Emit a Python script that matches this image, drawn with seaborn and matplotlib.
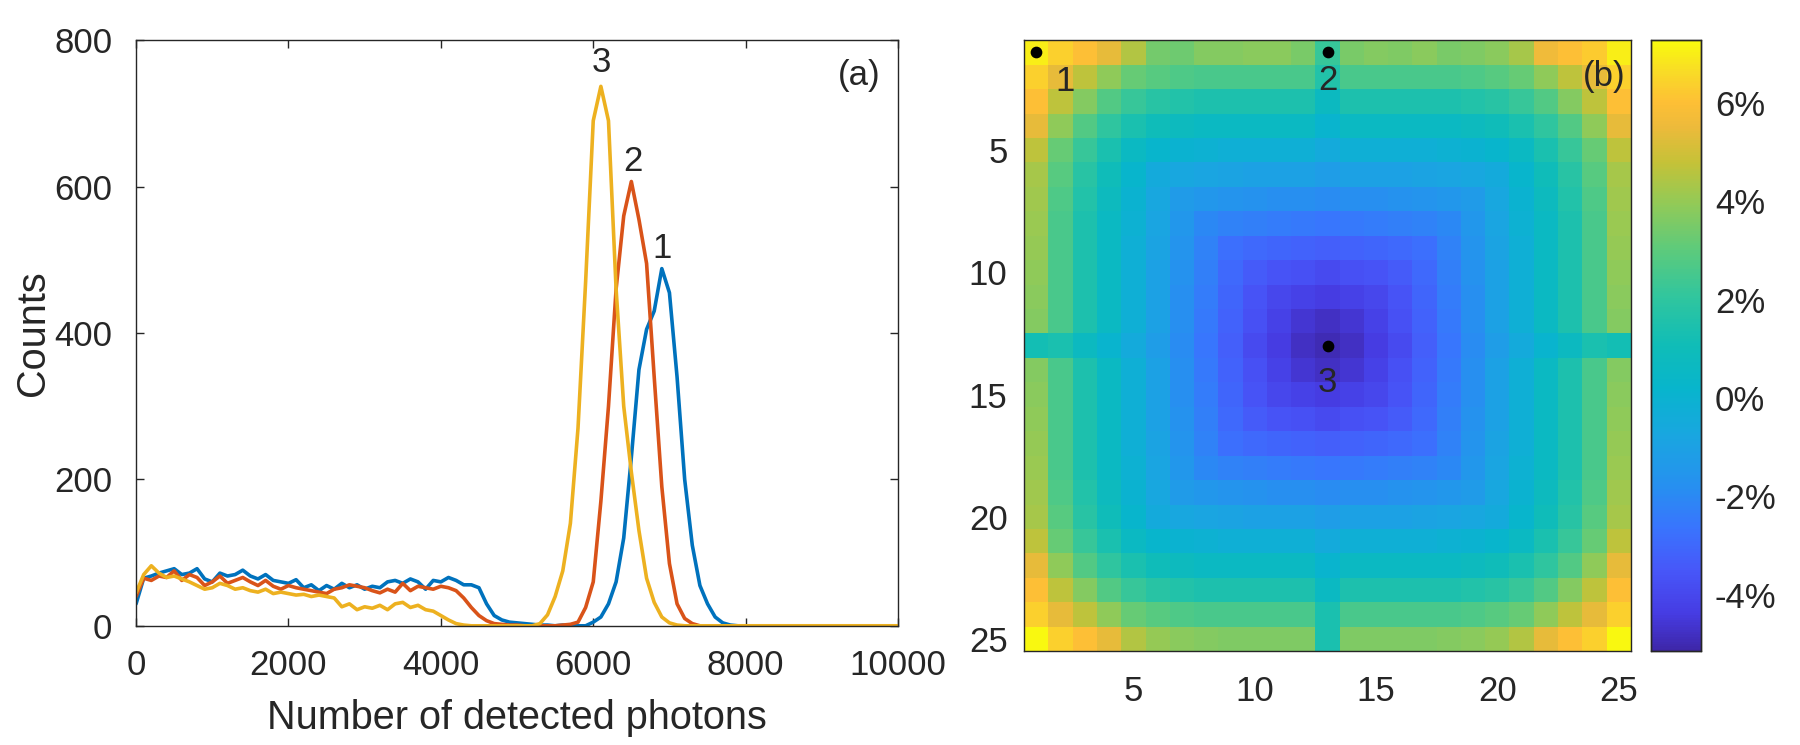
import numpy as np
import pandas as pd
import matplotlib
matplotlib.use('Agg')
import matplotlib.pyplot as plt
import seaborn as sns
from matplotlib.colors import LinearSegmentedColormap

# ---- panel (a): photon count histograms, bins of 100 photons ----
photons = np.arange(0, 10001, 100)

counts_1 = [30, 65, 68, 72, 75, 78, 70, 72, 78, 64,
            60, 72, 68, 70, 76, 68, 64, 70, 62, 60,
            58, 63, 52, 56, 48, 55, 50, 58, 52, 56,
            50, 54, 52, 60, 62, 58, 64, 60, 50, 62,
            60, 66, 62, 56, 56, 52, 30, 14, 8, 5,
            4, 3, 2, 1, 1, 0, 1, 0, 0, 0,
            5, 12, 30, 60, 120, 230, 350, 405, 430, 488,
            455, 340, 200, 110, 55, 30, 12, 4, 1, 0,
            0, 0, 0, 0, 0, 0, 0, 0, 0, 0,
            0, 0, 0, 0, 0, 0, 0, 0, 0, 0,
            0]
counts_2 = [40, 65, 62, 68, 66, 75, 62, 70, 66, 55,
            60, 68, 58, 62, 66, 60, 55, 62, 54, 50,
            55, 52, 50, 48, 46, 44, 50, 52, 56, 54,
            52, 48, 45, 50, 46, 58, 48, 54, 52, 50,
            54, 52, 48, 38, 25, 14, 7, 3, 2, 1,
            1, 0, 0, 0, 0, 0, 1, 2, 5, 25,
            60, 170, 300, 460, 560, 607, 555, 495, 340, 190,
            85, 30, 10, 3, 0, 0, 0, 0, 0, 0,
            0, 0, 0, 0, 0, 0, 0, 0, 0, 0,
            0, 0, 0, 0, 0, 0, 0, 0, 0, 0,
            0]
counts_3 = [45, 70, 82, 72, 66, 68, 64, 60, 55, 50,
            52, 58, 55, 50, 52, 48, 46, 50, 44, 46,
            44, 42, 43, 40, 42, 40, 38, 26, 30, 22,
            26, 24, 28, 22, 30, 32, 25, 28, 22, 20,
            14, 8, 3, 1, 0, 0, 0, 0, 0, 0,
            0, 0, 0, 3, 15, 40, 75, 140, 270, 470,
            690, 737, 690, 460, 300, 210, 130, 65, 32, 12,
            4, 1, 0, 0, 0, 0, 0, 0, 0, 0,
            0, 0, 0, 0, 0, 0, 0, 0, 0, 0,
            0, 0, 0, 0, 0, 0, 0, 0, 0, 0,
            0]
line_colors = ['#0072BD', '#D95319', '#EDB120']

# ---- panel (b): 25x25 map of deviation in percent ----
deviation = [
    [7.0, 6.4, 6.0, 5.4, 4.5, 3.4, 3.3, 3.7, 3.7, 3.8, 3.8, 3.5, 2.2, 3.5, 3.7, 3.6, 3.8, 3.5, 3.6, 3.8, 4.3, 5.6, 6.0, 6.3, 7.0],
    [6.4, 5.4, 4.7, 3.9, 3.2, 2.9, 2.7, 2.6, 2.6, 2.6, 2.6, 2.6, 1.6, 2.6, 2.6, 2.6, 2.6, 2.6, 2.7, 2.9, 3.2, 3.9, 4.7, 5.4, 6.4],
    [6.0, 4.7, 3.7, 2.8, 2.2, 1.8, 1.6, 1.5, 1.5, 1.5, 1.5, 1.5, 0.7, 1.5, 1.5, 1.5, 1.5, 1.5, 1.6, 1.8, 2.2, 2.8, 3.7, 4.7, 6.0],
    [5.4, 3.9, 2.8, 2.0, 1.4, 1.0, 0.8, 0.6, 0.6, 0.6, 0.6, 0.6, 0.1, 0.6, 0.6, 0.6, 0.6, 0.6, 0.8, 1.0, 1.4, 2.0, 2.8, 3.9, 5.4],
    [4.7, 3.2, 2.2, 1.4, 0.6, 0.2, 0.0, -0.1, -0.2, -0.2, -0.2, -0.2, -0.5, -0.2, -0.2, -0.2, -0.2, -0.1, 0.0, 0.2, 0.6, 1.4, 2.2, 3.2, 4.7],
    [4.3, 2.9, 1.8, 1.0, 0.2, -0.5, -0.7, -0.8, -0.9, -1.0, -1.0, -1.0, -1.2, -1.0, -1.0, -1.0, -0.9, -0.8, -0.7, -0.5, 0.2, 1.0, 1.8, 2.9, 4.3],
    [4.2, 2.7, 1.6, 0.8, 0.0, -0.7, -1.3, -1.5, -1.6, -1.7, -1.8, -1.8, -1.9, -1.8, -1.8, -1.7, -1.6, -1.5, -1.3, -0.7, 0.0, 0.8, 1.6, 2.7, 4.2],
    [4.1, 2.6, 1.5, 0.6, -0.1, -0.8, -1.5, -2.0, -2.2, -2.3, -2.4, -2.5, -2.6, -2.5, -2.4, -2.3, -2.2, -2.0, -1.5, -0.8, -0.1, 0.6, 1.5, 2.6, 4.1],
    [4.0, 2.6, 1.5, 0.6, -0.2, -0.9, -1.6, -2.2, -2.8, -3.0, -3.1, -3.2, -3.3, -3.2, -3.1, -3.0, -2.8, -2.2, -1.6, -0.9, -0.2, 0.6, 1.5, 2.6, 4.0],
    [3.9, 2.6, 1.5, 0.6, -0.2, -1.0, -1.7, -2.3, -3.0, -3.4, -3.6, -3.7, -3.9, -3.7, -3.6, -3.4, -3.0, -2.3, -1.7, -1.0, -0.2, 0.6, 1.5, 2.6, 3.9],
    [3.8, 2.6, 1.5, 0.6, -0.2, -1.0, -1.8, -2.4, -3.1, -3.6, -4.0, -4.2, -4.4, -4.2, -4.0, -3.6, -3.1, -2.4, -1.8, -1.0, -0.2, 0.6, 1.5, 2.6, 3.8],
    [3.7, 2.6, 1.5, 0.6, -0.2, -1.0, -1.8, -2.5, -3.2, -3.7, -4.2, -4.6, -4.8, -4.6, -4.2, -3.7, -3.2, -2.5, -1.8, -1.0, -0.2, 0.6, 1.5, 2.6, 3.7],
    [1.2, 1.4, 0.7, 0.1, -0.5, -1.2, -1.9, -2.6, -3.3, -3.9, -4.4, -4.8, -5.0, -4.8, -4.4, -3.9, -3.3, -2.6, -1.9, -1.2, -0.5, 0.1, 0.7, 1.4, 1.2],
    [3.7, 2.6, 1.5, 0.6, -0.2, -1.0, -1.8, -2.5, -3.2, -3.7, -4.2, -4.6, -4.8, -4.6, -4.2, -3.7, -3.2, -2.5, -1.8, -1.0, -0.2, 0.6, 1.5, 2.6, 3.7],
    [3.8, 2.6, 1.5, 0.6, -0.2, -1.0, -1.8, -2.4, -3.1, -3.6, -4.0, -4.2, -4.4, -4.2, -4.0, -3.6, -3.1, -2.4, -1.8, -1.0, -0.2, 0.6, 1.5, 2.6, 3.8],
    [3.9, 2.6, 1.5, 0.6, -0.2, -1.0, -1.7, -2.3, -3.0, -3.4, -3.6, -3.7, -3.9, -3.7, -3.6, -3.4, -3.0, -2.3, -1.7, -1.0, -0.2, 0.6, 1.5, 2.6, 3.9],
    [4.0, 2.6, 1.5, 0.6, -0.2, -0.9, -1.6, -2.2, -2.8, -3.0, -3.1, -3.2, -3.3, -3.2, -3.1, -3.0, -2.8, -2.2, -1.6, -0.9, -0.2, 0.6, 1.5, 2.6, 4.0],
    [4.1, 2.6, 1.5, 0.6, -0.1, -0.8, -1.5, -2.0, -2.2, -2.3, -2.4, -2.5, -2.6, -2.5, -2.4, -2.3, -2.2, -2.0, -1.5, -0.8, -0.1, 0.6, 1.5, 2.6, 4.1],
    [4.2, 2.7, 1.6, 0.8, 0.0, -0.7, -1.3, -1.5, -1.6, -1.7, -1.8, -1.8, -1.9, -1.8, -1.8, -1.7, -1.6, -1.5, -1.3, -0.7, 0.0, 0.8, 1.6, 2.7, 4.2],
    [4.3, 2.9, 1.8, 1.0, 0.2, -0.5, -0.7, -0.8, -0.9, -1.0, -1.0, -1.0, -1.2, -1.0, -1.0, -1.0, -0.9, -0.8, -0.7, -0.5, 0.2, 1.0, 1.8, 2.9, 4.3],
    [4.7, 3.2, 2.2, 1.4, 0.6, 0.2, 0.0, -0.1, -0.2, -0.2, -0.2, -0.2, -0.5, -0.2, -0.2, -0.2, -0.2, -0.1, 0.0, 0.2, 0.6, 1.4, 2.2, 3.2, 4.7],
    [5.4, 3.9, 2.8, 2.0, 1.4, 1.0, 0.8, 0.6, 0.6, 0.6, 0.6, 0.6, 0.1, 0.6, 0.6, 0.6, 0.6, 0.6, 0.8, 1.0, 1.4, 2.0, 2.8, 3.9, 5.4],
    [6.0, 4.7, 3.7, 2.8, 2.2, 1.8, 1.6, 1.5, 1.5, 1.5, 1.5, 1.5, 0.6, 1.5, 1.5, 1.5, 1.5, 1.5, 1.6, 1.8, 2.2, 2.8, 3.7, 4.7, 6.0],
    [6.4, 5.4, 4.7, 3.9, 3.2, 2.9, 2.7, 2.6, 2.6, 2.6, 2.6, 2.6, 1.4, 2.6, 2.6, 2.6, 2.6, 2.6, 2.7, 2.9, 3.2, 3.9, 4.7, 5.4, 6.4],
    [7.2, 6.4, 6.0, 5.4, 4.5, 4.0, 3.8, 3.7, 3.6, 3.6, 3.6, 3.6, 1.4, 3.6, 3.6, 3.6, 3.6, 3.7, 3.8, 4.0, 4.5, 5.4, 6.0, 6.4, 7.2],
]
marked_cols = [1, 13, 13]   # 1-based pixel positions of the three dots
marked_rows = [1, 1, 13]
cbar_ticks = [-4, -2, 0, 2, 4, 6]

# approximation of MATLAB's parula
parula = LinearSegmentedColormap.from_list('parula', [
    (0.00, (0.242, 0.150, 0.660)), (0.06, (0.275, 0.235, 0.890)),
    (0.13, (0.280, 0.340, 0.975)), (0.20, (0.225, 0.455, 0.995)),
    (0.27, (0.150, 0.565, 0.940)), (0.35, (0.100, 0.650, 0.880)),
    (0.43, (0.030, 0.710, 0.800)), (0.50, (0.060, 0.740, 0.720)),
    (0.58, (0.190, 0.775, 0.620)), (0.66, (0.370, 0.795, 0.480)),
    (0.74, (0.590, 0.790, 0.330)), (0.80, (0.770, 0.760, 0.220)),
    (0.86, (0.930, 0.730, 0.230)), (0.90, (0.995, 0.750, 0.210)),
    (0.95, (0.975, 0.860, 0.150)), (1.00, (0.976, 0.983, 0.054))])

sns.set_style('white')
plt.rcParams['font.family'] = ['Liberation Sans', 'DejaVu Sans']
dark = '#262626'

fig = plt.figure(figsize=(18, 7.45), dpi=100)
ax1 = fig.add_axes([0.0756, 0.160, 0.4233, 0.786])
ax2 = fig.add_axes([0.569, 0.126, 0.337, 0.820])
cax = fig.add_axes([0.917, 0.126, 0.028, 0.820])

# (a)
for ys, c in zip([counts_1, counts_2, counts_3], line_colors):
    sns.lineplot(x=photons, y=ys, color=c, linewidth=2.6, ax=ax1)
ax1.set_xlim(0, 10000)
ax1.set_ylim(0, 800)
ax1.set_xticks(range(0, 10001, 2000))
ax1.set_yticks(range(0, 801, 200))
ax1.set_xlabel('Number of detected photons', fontsize=28.5, color=dark, labelpad=12)
ax1.set_ylabel('Counts', fontsize=28.5, color=dark, labelpad=2)
ax1.text(6110, 769, '3', fontsize=25, ha='center', va='center')
ax1.text(6520, 634, '2', fontsize=25, ha='center', va='center')
ax1.text(6900, 516, '1', fontsize=25, ha='center', va='center')
ax1.text(9490, 752, '(a)', fontsize=25, ha='center', va='center')

# (b)
sns.heatmap(pd.DataFrame(deviation), ax=ax2, cmap=parula, vmin=-5.15, vmax=7.28,
            cbar_ax=cax, xticklabels=False, yticklabels=False)
ax2.scatter([c - 0.5 for c in marked_cols], [r - 0.5 for r in marked_rows],
            s=55, color='black', zorder=5)
ax2.text(1.7, 1.7, '1', fontsize=25, ha='center', va='center')
ax2.text(12.5, 1.65, '2', fontsize=25, ha='center', va='center')
ax2.text(12.5, 14.0, '3', fontsize=25, ha='center', va='center')
ax2.text(23.9, 1.5, '(b)', fontsize=25, ha='center', va='center')
ticks = [5, 10, 15, 20, 25]
ax2.set_xticks([t - 0.5 for t in ticks])
ax2.set_xticklabels([str(t) for t in ticks])
ax2.set_yticks([t - 0.5 for t in ticks])
ax2.set_yticklabels([str(t) for t in ticks], rotation=0)

for ax in (ax1, ax2):
    for s in ax.spines.values():
        s.set_visible(True)
        s.set_color(dark)
        s.set_linewidth(1.0)
    ax.tick_params(direction='in', length=6, width=1, color=dark, labelcolor=dark,
                   labelsize=25, top=True, right=True, bottom=True, left=True)
ax1.tick_params(axis='x', pad=17)
ax1.tick_params(axis='y', pad=17)
ax2.tick_params(axis='x', pad=17)
ax2.tick_params(axis='y', pad=12)

cax.set_yticks(cbar_ticks)
cax.set_yticklabels([f'{t}%' for t in cbar_ticks])
cax.tick_params(direction='in', length=5, width=1, color=dark, labelcolor=dark,
                labelsize=25, right=True, left=False, pad=10)
for s in cax.spines.values():
    s.set_visible(True)
    s.set_color(dark)
    s.set_linewidth(1.0)

fig.savefig('out.png', dpi=100, facecolor='white')
